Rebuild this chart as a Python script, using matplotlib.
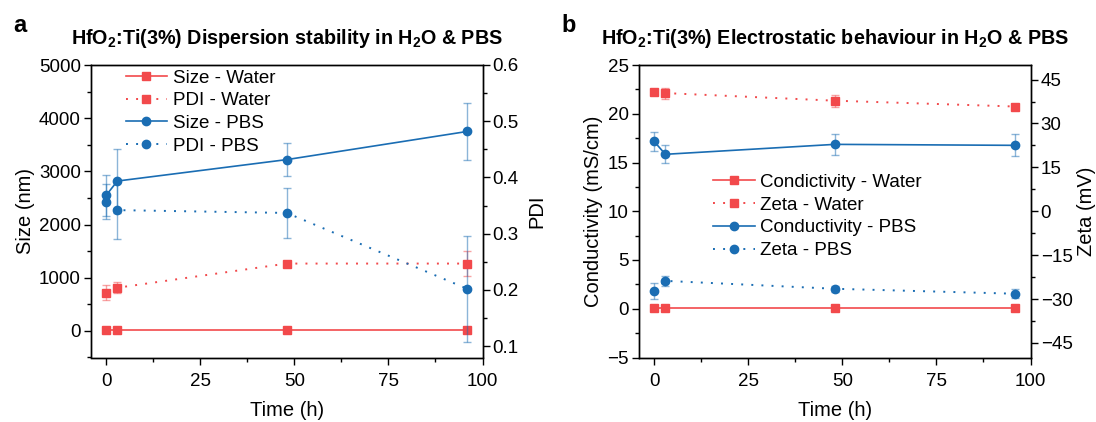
import matplotlib
matplotlib.use("Agg")
import matplotlib.pyplot as plt
from matplotlib.colors import to_rgba
from matplotlib.ticker import MultipleLocator

plt.rcParams['font.family'] = ['Liberation Sans', 'DejaVu Sans']
plt.rcParams['mathtext.fontset'] = 'custom'
plt.rcParams['mathtext.rm'] = 'Liberation Sans'
plt.rcParams['mathtext.bf'] = 'Liberation Sans:bold'
plt.rcParams['mathtext.it'] = 'Liberation Sans:italic'
plt.rcParams['axes.linewidth'] = 1.0

# ---- data -------------------------------------------------------------
time_h = [0, 3, 48, 96]

# (a) dispersion stability
size_water = [20, 20, 20, 20]
pdi_water = [0.195, 0.204, 0.247, 0.247]
pdi_water_err = [0.013, 0.010, 0.005, 0.022]
size_pbs = [2547, 2818, 3221, 3751]
size_pbs_err = [388, 603, 312, 531]
pdi_pbs = [0.357, 0.342, 0.337, 0.202]
pdi_pbs_err = [0.031, 0.051, 0.044, 0.094]

# (b) electrostatic behaviour
cond_water = [0.1, 0.1, 0.1, 0.1]
zeta_water = [40.6, 40.4, 37.8, 35.8]
zeta_water_err = [0.6, 1.9, 2.0, 0.6]
cond_pbs = [17.17, 15.84, 16.86, 16.76]
cond_pbs_err = [1.0, 0.94, 1.07, 1.14]
zeta_pbs = [-27.2, -23.8, -26.5, -28.2]
zeta_pbs_err = [2.8, 1.6, 1.1, 1.5]

RED = '#F2494B'
BLUE = '#1A6DB3'
DOTTED = (0, (1, 4.2))

TICK_FS = 13.5
LABEL_FS = 14.5
LEGEND_FS = 13.5
TITLE_FS = 14.2

W, H = 1096, 422
fig = plt.figure(figsize=(W / 100, H / 100), dpi=100)


def add_axes(left_px, right_px, top_px, bottom_px):
    return fig.add_axes([left_px / W, 1 - bottom_px / H,
                         (right_px - left_px) / W, (bottom_px - top_px) / H])


def draw(ax, y, err, color, marker, ls, ms):
    lw = 1.4 if ls == DOTTED else 1.2
    if err is None:
        line, = ax.plot(time_h, y, color=color, marker=marker, ls=ls, lw=lw,
                        ms=ms, zorder=3)
        return line
    eb = ax.errorbar(time_h, y, yerr=err, color=color, marker=marker, ls=ls,
                     lw=lw, ms=ms, ecolor=to_rgba(color, 0.5), elinewidth=1.0,
                     capsize=2.6, capthick=1.0, zorder=3)
    return eb.lines[0]


def style_axes(ax, axr):
    for a in (ax, axr):
        a.tick_params(which='major', length=4.8, width=1.0, labelsize=TICK_FS,
                      pad=2.5, color='black')
        a.tick_params(which='minor', length=2.6, width=1.0, color='black')
    ax.tick_params(which='both', direction='out', top=False, right=False)
    ax.tick_params(axis='x', which='major', pad=6)
    axr.tick_params(which='both', direction='out', top=False, left=False,
                    right=True, bottom=False)
    ax.set_xlim(-4, 100)
    ax.xaxis.set_major_locator(MultipleLocator(25))
    ax.xaxis.set_minor_locator(MultipleLocator(12.5))
    ax.set_xlabel('Time (h)', fontsize=LABEL_FS, labelpad=8.5)


# ---- panel a ----------------------------------------------------------
axa = add_axes(91, 482.5, 65, 357.5)
axa2 = axa.twinx()
style_axes(axa, axa2)

h1 = draw(axa, size_water, None, RED, 's', '-', 5.2)
h3 = draw(axa, size_pbs, size_pbs_err, BLUE, 'o', '-', 6)
h2 = draw(axa2, pdi_water, pdi_water_err, RED, 's', DOTTED, 5.2)
h4 = draw(axa2, pdi_pbs, pdi_pbs_err, BLUE, 'o', DOTTED, 6)

axa.set_ylim(-500, 5000)
axa.yaxis.set_major_locator(MultipleLocator(1000))
axa.yaxis.set_minor_locator(MultipleLocator(500))
axa2.set_ylim(0.08, 0.6)
axa2.yaxis.set_major_locator(MultipleLocator(0.1))
axa2.yaxis.set_minor_locator(MultipleLocator(0.05))
axa.set_ylabel('Size (nm)', fontsize=LABEL_FS, labelpad=3)
axa2.set_ylabel('PDI', fontsize=LABEL_FS, labelpad=6)

axa2.legend([h1, h2, h3, h4],
            ['Size - Water', 'PDI - Water', 'Size - PBS', 'PDI - PBS'],
            loc='upper left', bbox_to_anchor=(0.089, 0.985), frameon=False,
            fontsize=LEGEND_FS, handlelength=2.2, handletextpad=0.3,
            labelspacing=0.3, borderpad=0, borderaxespad=0, numpoints=1)

axa.text(0.5, 1.072,
         r'HfO$_\mathbf{2}$:Ti(3%) Dispersion stability in H$_\mathbf{2}$O & PBS',
         transform=axa.transAxes, ha='center', va='baseline',
         fontsize=TITLE_FS, fontweight='bold')
fig.text(13 / W, 1 - 31.5 / H, 'a', fontsize=17, fontweight='bold',
         ha='left', va='baseline')

# ---- panel b ----------------------------------------------------------
axb = add_axes(639, 1030.5, 65, 357.5)
axb2 = axb.twinx()
style_axes(axb, axb2)

g1 = draw(axb, cond_water, None, RED, 's', '-', 5.2)
g3 = draw(axb, cond_pbs, cond_pbs_err, BLUE, 'o', '-', 6)
g2 = draw(axb2, zeta_water, zeta_water_err, RED, 's', DOTTED, 5.2)
g4 = draw(axb2, zeta_pbs, zeta_pbs_err, BLUE, 'o', DOTTED, 6)

axb.set_ylim(-5, 25)
axb.yaxis.set_major_locator(MultipleLocator(5))
axb.yaxis.set_minor_locator(MultipleLocator(2.5))
axb2.set_ylim(-50, 50)
axb2.set_yticks([-45, -30, -15, 0, 15, 30, 45])
axb2.yaxis.set_minor_locator(MultipleLocator(7.5))
axb.set_ylabel('Conductivity (mS/cm)', fontsize=LABEL_FS, labelpad=3)
axb2.set_ylabel('Zeta (mV)', fontsize=LABEL_FS, labelpad=3)

axb2.legend([g1, g2, g3, g4],
            ['Condictivity - Water', 'Zeta - Water', 'Conductivity - PBS',
             'Zeta - PBS'],
            loc='upper left', bbox_to_anchor=(0.19, 0.628), frameon=False,
            fontsize=LEGEND_FS, handlelength=2.2, handletextpad=0.3,
            labelspacing=0.3, borderpad=0, borderaxespad=0, numpoints=1)

axb.text(0.5, 1.072,
         r'HfO$_\mathbf{2}$:Ti(3%) Electrostatic behaviour in H$_\mathbf{2}$O & PBS',
         transform=axb.transAxes, ha='center', va='baseline',
         fontsize=TITLE_FS, fontweight='bold')
fig.text(561 / W, 1 - 31.5 / H, 'b', fontsize=17, fontweight='bold',
         ha='left', va='baseline')

fig.savefig('out.png', dpi=100)
